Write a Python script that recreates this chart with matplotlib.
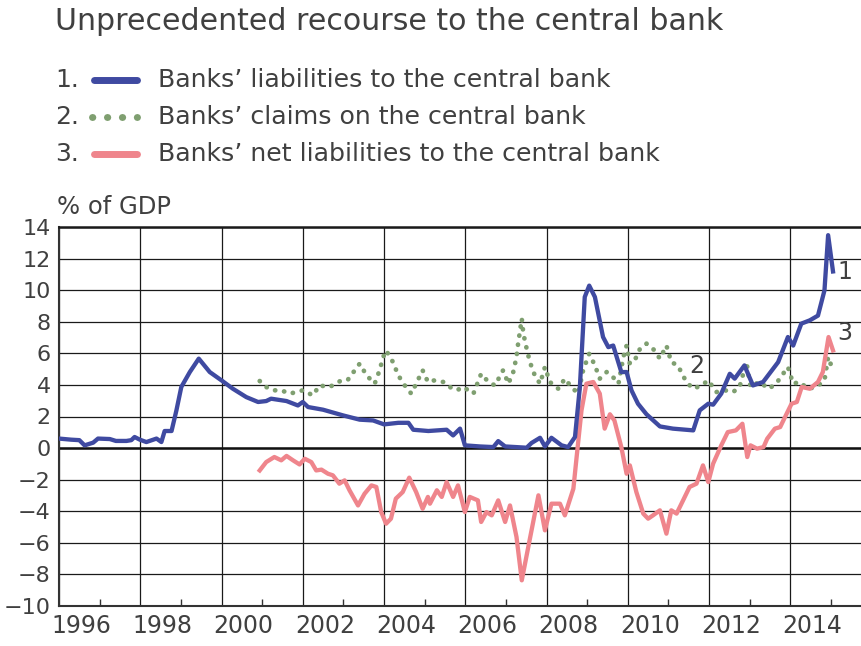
import numpy as np
import matplotlib
matplotlib.use('Agg')
import matplotlib.pyplot as plt
from matplotlib.lines import Line2D
from matplotlib.transforms import ScaledTranslation

# --- data (% of GDP) ---
liab_years = [1996.0, 1996.3, 1996.5, 1996.63, 1996.84, 1996.96, 1997.25, 1997.4, 1997.66, 1997.78,
              1997.86, 1997.99, 1998.15, 1998.4, 1998.52, 1998.6, 1998.77, 1998.89, 1999.01, 1999.22,
              1999.44, 1999.71, 2000.0, 2000.28, 2000.61, 2000.9, 2001.1, 2001.22, 2001.6, 2001.88,
              2002.0, 2002.13, 2002.5, 2002.99, 2003.4, 2003.73, 2004.0, 2004.35, 2004.6, 2004.72,
              2005.09, 2005.54, 2005.7, 2005.87, 2005.99, 2006.36, 2006.69, 2006.81, 2006.98, 2007.51,
              2007.63, 2007.84, 2007.96, 2008.12, 2008.37, 2008.53, 2008.7, 2008.82, 2008.94, 2009.05,
              2009.19, 2009.39, 2009.52, 2009.64, 2009.84, 2009.97, 2010.09, 2010.25, 2010.46, 2010.79,
              2011.11, 2011.61, 2011.77, 2011.98, 2012.1, 2012.3, 2012.51, 2012.63, 2012.87, 2013.08,
              2013.33, 2013.7, 2013.94, 2014.07, 2014.27, 2014.48, 2014.68, 2014.84, 2014.93, 2015.05]
liab_vals = [0.6, 0.53, 0.5, 0.17, 0.34, 0.6, 0.57, 0.45, 0.45, 0.5,
             0.7, 0.53, 0.38, 0.6, 0.38, 1.08, 1.08, 2.39, 3.87, 4.82,
             5.67, 4.82, 4.29, 3.76, 3.23, 2.92, 2.98, 3.13, 2.98, 2.7,
             2.92, 2.6, 2.43, 2.07, 1.8, 1.75, 1.5, 1.6, 1.6, 1.16,
             1.08, 1.16, 0.8, 1.23, 0.17, 0.1, 0.06, 0.44, 0.1, 0.02,
             0.32, 0.65, 0.1, 0.65, 0.17, 0.06, 0.7, 3.87, 9.58, 10.3,
             9.58, 7.04, 6.4, 6.5, 4.82, 4.82, 3.66, 2.81, 2.14, 1.37,
             1.23, 1.12, 2.39, 2.81, 2.75, 3.45, 4.71, 4.4, 5.24, 3.97,
             4.19, 5.45, 7.04, 6.5, 7.89, 8.1, 8.4, 10.0, 13.5, 11.2]

claims_years = [2000.94, 2001.1, 2001.27, 2001.47, 2001.68, 2001.84, 2002.0, 2002.25, 2002.41, 2002.66,
                2002.95, 2003.11, 2003.28, 2003.4, 2003.57, 2003.77, 2003.89, 2003.98, 2004.05, 2004.22,
                2004.35, 2004.51, 2004.67, 2004.79, 2004.95, 2005.08, 2005.21, 2005.46, 2005.62, 2005.79,
                2005.95, 2006.2, 2006.39, 2006.57, 2006.73, 2006.93, 2007.06, 2007.18, 2007.26, 2007.3,
                2007.39, 2007.43, 2007.51, 2007.59, 2007.71, 2007.84, 2007.96, 2008.08, 2008.29, 2008.45,
                2008.61, 2008.78, 2008.9, 2009.05, 2009.19, 2009.31, 2009.48, 2009.6, 2009.77, 2009.89,
                2009.97, 2010.05, 2010.17, 2010.3, 2010.46, 2010.62, 2010.79, 2010.95, 2011.07, 2011.23,
                2011.44, 2011.61, 2011.81, 2011.98, 2012.18, 2012.39, 2012.59, 2012.75, 2012.92, 2013.02,
                2013.23, 2013.48, 2013.68, 2013.94, 2014.07, 2014.23, 2014.43, 2014.64, 2014.84, 2014.93,
                2015.05]
claims_vals = [4.25, 3.87, 3.66, 3.66, 3.45, 3.55, 3.66, 3.34, 3.97, 3.87,
               4.29, 4.33, 4.93, 5.35, 4.61, 4.08, 4.93, 5.77, 6.19, 5.45,
               4.61, 3.97, 3.45, 4.08, 4.93, 4.19, 4.29, 4.19, 3.87, 3.66,
               3.87, 3.45, 4.71, 4.19, 3.97, 4.93, 4.08, 4.82, 5.77, 6.62,
               8.2, 7.25, 6.3, 5.45, 4.61, 4.08, 5.14, 4.19, 3.76, 4.4,
               3.87, 3.45, 4.93, 5.98, 5.24, 4.4, 4.82, 4.61, 4.08, 5.77,
               6.5, 5.35, 5.56, 6.3, 6.62, 6.3, 5.67, 6.5, 5.45, 5.24,
               4.19, 3.76, 3.97, 4.29, 3.55, 3.66, 3.55, 3.87, 5.45, 3.87,
               4.19, 3.76, 4.19, 5.14, 4.08, 4.19, 3.76, 3.87, 4.29, 5.77,
               4.93]

net_years = [2000.94, 2001.1, 2001.3, 2001.47, 2001.6, 2001.76, 2001.92, 2002.05, 2002.21, 2002.33,
             2002.46, 2002.62, 2002.74, 2002.9, 2003.03, 2003.15, 2003.36, 2003.52, 2003.69, 2003.81,
             2003.93, 2004.05, 2004.17, 2004.29, 2004.46, 2004.62, 2004.79, 2004.95, 2005.08, 2005.13,
             2005.3, 2005.42, 2005.54, 2005.7, 2005.82, 2005.99, 2006.11, 2006.31, 2006.39, 2006.52,
             2006.65, 2006.81, 2006.98, 2007.1, 2007.26, 2007.39, 2007.59, 2007.8, 2007.96, 2008.12,
             2008.33, 2008.45, 2008.66, 2008.74, 2008.86, 2008.98, 2009.15, 2009.31, 2009.43, 2009.56,
             2009.67, 2009.84, 2009.97, 2010.05, 2010.21, 2010.38, 2010.5, 2010.62, 2010.79, 2010.95,
             2011.07, 2011.2, 2011.36, 2011.52, 2011.69, 2011.85, 2011.98, 2012.1, 2012.3, 2012.46,
             2012.66, 2012.82, 2012.94, 2013.02, 2013.18, 2013.34, 2013.43, 2013.62, 2013.75, 2013.87,
             2014.03, 2014.16, 2014.28, 2014.48, 2014.68, 2014.8, 2014.94, 2015.05]
net_vals = [-1.42, -0.89, -0.57, -0.78, -0.5, -0.78, -1.04, -0.68, -0.89, -1.42,
            -1.37, -1.63, -1.73, -2.26, -2.05, -2.68, -3.64, -2.9, -2.37, -2.47,
            -4.06, -4.8, -4.48, -3.21, -2.79, -1.88, -2.79, -3.85, -3.1, -3.53,
            -2.68, -3.1, -2.16, -3.1, -2.37, -4.06, -3.1, -3.32, -4.69, -4.06,
            -4.27, -3.32, -4.69, -3.64, -5.64, -8.39, -5.75, -3.0, -5.22, -3.53,
            -3.53, -4.27, -2.58, -0.57, 2.39, 4.08, 4.19, 3.45, 1.23, 2.14,
            1.75, 0.06, -1.63, -1.1, -2.79, -4.16, -4.48, -4.27, -3.95, -5.43,
            -3.95, -4.16, -3.32, -2.47, -2.26, -1.1, -2.16, -0.99, 0.17, 1.01,
            1.12, 1.54, -0.57, 0.17, -0.04, 0.06, 0.59, 1.23, 1.33, 1.97,
            2.81, 2.92, 3.87, 3.76, 4.19, 4.82, 7.04, 6.19]

legend_labels = ["Banks\u2019 liabilities to the central bank",
                 "Banks\u2019 claims on the central bank",
                 "Banks\u2019 net liabilities to the central bank"]
year_ticks = list(range(1996, 2015, 2))
y_ticks = list(range(-10, 15, 2))

BLUE = '#3f4aa1'
GREEN = '#7f9f70'
PINK = '#ef858c'
TXT = '#404040'

W, H = 861, 646
fig = plt.figure(figsize=(W / 100, H / 100), dpi=100)
ax = fig.add_axes([59 / W, 40.3 / H, (W - 59) / W, 378.4 / H])

ax.plot(liab_years, liab_vals, color=BLUE, lw=3.1, solid_joinstyle='round', zorder=4)
ax.plot(claims_years, claims_vals, color=GREEN, lw=3.4, linestyle=(0, (0.05, 1.9)),
        dash_capstyle='round', zorder=3)
ax.plot(net_years, net_vals, color=PINK, lw=3.1, solid_joinstyle='round', zorder=3)

ax.set_xlim(1996, 1996 + (W - 59) / 40.63)
ax.set_ylim(-10, 14)

# grid: even years vertical, every 2 horizontally
ax.set_xticks(year_ticks)
ax.set_xticklabels([str(y) for y in year_ticks])
ax.set_xticks(range(1997, 2016, 2), minor=True)
ax.set_yticks(y_ticks)
ax.set_yticklabels([f'{v}'.replace('-', '\u2212') for v in y_ticks])
ax.grid(True, which='major', color='#1a1a1a', lw=0.9)
ax.axhline(0, color='#111111', lw=1.8, zorder=2)
ax.tick_params(axis='x', which='major', length=0, pad=6, labelsize=17, labelcolor=TXT)
ax.tick_params(axis='x', which='minor', direction='in', length=5, width=1, color='#333333')
ax.tick_params(axis='y', length=0, pad=6, labelsize=16, labelcolor=TXT)
# year labels sit in the middle of each year
for lab in ax.get_xticklabels():
    lab.set_transform(lab.get_transform() + ScaledTranslation(22 / 100, 0, fig.dpi_scale_trans))

for side in ['left', 'bottom']:
    ax.spines[side].set_color('#333333')
    ax.spines[side].set_linewidth(1.5)
ax.spines['top'].set_color('#1a1a1a')
ax.spines['top'].set_linewidth(1.8)
ax.spines['right'].set_visible(False)

# end labels
ax.text(2015.35, 11.16, '1', fontsize=17, color=TXT, ha='center', va='center')
ax.text(2011.70, 5.2, '2', fontsize=17, color=TXT, ha='center', va='center')
ax.text(2015.35, 7.29, '3', fontsize=17, color=TXT, ha='center', va='center')

fig.text(57 / W, 1 - 207 / H, '% of GDP', fontsize=17.5, color=TXT, ha='left', va='center')

# title and legend
fig.text(55 / W, 1 - 22 / H, 'Unprecedented recourse to the central bank', fontsize=21.6,
         color=TXT, ha='left', va='center')
rows_y = [80, 117, 154]
styles = [dict(color=BLUE, lw=5, solid_capstyle='round'),
          dict(color=GREEN, lw=5, linestyle=(0, (0.05, 2.1)), dash_capstyle='round'),
          dict(color=PINK, lw=5, solid_capstyle='round')]
for i, (yy, lab, st) in enumerate(zip(rows_y, legend_labels, styles)):
    yf = 1 - yy / H
    fig.text(55 / W, yf, f'{i + 1}.', fontsize=18, color=TXT, ha='left', va='center')
    x0 = 92 if i == 1 else 94
    fig.add_artist(Line2D([x0 / W, 137 / W], [yf, yf], transform=fig.transFigure, **st))
    fig.text(158 / W, yf, lab, fontsize=18.2, color=TXT, ha='left', va='center')

fig.savefig('out.png', dpi=100)
